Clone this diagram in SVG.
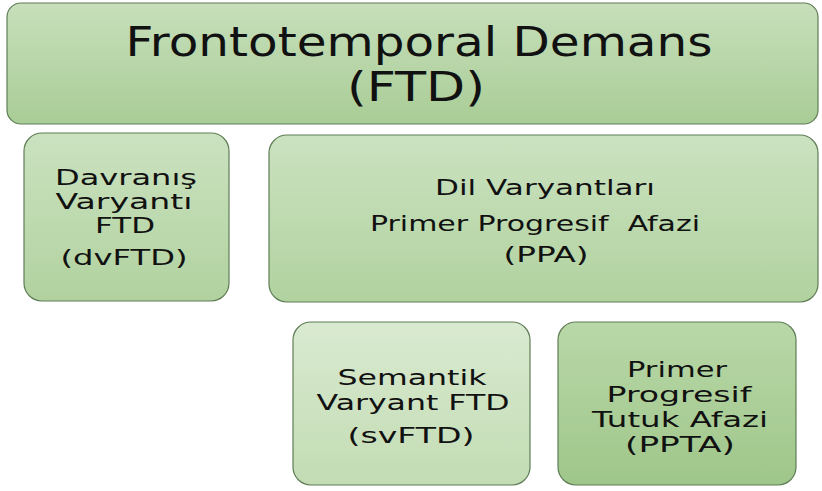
<svg xmlns="http://www.w3.org/2000/svg" width="822" height="491" viewBox="0 0 822 491">
<defs>
<linearGradient id="g1" x1="0" y1="0" x2="0" y2="1"><stop offset="0" stop-color="#c7dfbb"/><stop offset="1" stop-color="#a9cd96"/></linearGradient>
<linearGradient id="g2" x1="0" y1="0" x2="0" y2="1"><stop offset="0" stop-color="#cbe2c0"/><stop offset="1" stop-color="#b1d29f"/></linearGradient>
<linearGradient id="g3" x1="0" y1="0" x2="0" y2="1"><stop offset="0" stop-color="#d9ead0"/><stop offset="1" stop-color="#c3dcb4"/></linearGradient>
<linearGradient id="g4" x1="0" y1="0" x2="0" y2="1"><stop offset="0" stop-color="#b9d8a8"/><stop offset="1" stop-color="#9fc68a"/></linearGradient>
</defs>
<style>
rect{stroke:#5f7d56;stroke-width:1.2}
text{font-family:"DejaVu Sans",Verdana,sans-serif;fill:#111;text-anchor:middle}
.t{font-size:41px}
.s{font-size:22px}
</style>
<rect width="822" height="491" fill="#ffffff" style="stroke:none"/>
<g id="ftd">
<rect x="7" y="3" width="811" height="121" rx="14" fill="url(#g1)"/>
<text class="t" x="419" y="56" textLength="587" lengthAdjust="spacingAndGlyphs">Frontotemporal Demans</text>
<text class="t" x="416" y="101" textLength="138" lengthAdjust="spacingAndGlyphs">(FTD)</text>
</g>
<g id="dvftd">
<rect x="24" y="133" width="205" height="168" rx="18" fill="url(#g2)"/>
<text class="s" x="126" y="185" textLength="142" lengthAdjust="spacingAndGlyphs">Davranış</text>
<text class="s" x="124" y="209" textLength="137" lengthAdjust="spacingAndGlyphs">Varyantı</text>
<text class="s" x="125" y="233" textLength="60" lengthAdjust="spacingAndGlyphs">FTD</text>
<text class="s" x="124" y="265" textLength="127" lengthAdjust="spacingAndGlyphs">(dvFTD)</text>
</g>
<g id="ppa">
<rect x="269" y="135" width="549" height="167" rx="18" fill="url(#g2)"/>
<text class="s" x="545" y="195" textLength="220" lengthAdjust="spacingAndGlyphs">Dil Varyantları</text>
<text class="s" x="535" y="231" textLength="330" lengthAdjust="spacingAndGlyphs" xml:space="preserve">Primer Progresif  Afazi</text>
<text class="s" x="546" y="262" textLength="85" lengthAdjust="spacingAndGlyphs">(PPA)</text>
</g>
<g id="svftd">
<rect x="293" y="322" width="237" height="163" rx="18" fill="url(#g3)"/>
<text class="s" x="412" y="385" textLength="149" lengthAdjust="spacingAndGlyphs">Semantik</text>
<text class="s" x="413" y="410" textLength="193" lengthAdjust="spacingAndGlyphs">Varyant FTD</text>
<text class="s" x="411" y="443" textLength="127" lengthAdjust="spacingAndGlyphs">(svFTD)</text>
</g>
<g id="ppta">
<rect x="558" y="322" width="238" height="163" rx="18" fill="url(#g4)"/>
<text class="s" x="677" y="377" textLength="100" lengthAdjust="spacingAndGlyphs">Primer</text>
<text class="s" x="679" y="402" textLength="145" lengthAdjust="spacingAndGlyphs">Progresif</text>
<text class="s" x="680" y="427" textLength="176" lengthAdjust="spacingAndGlyphs">Tutuk Afazi</text>
<text class="s" x="680" y="452" textLength="110" lengthAdjust="spacingAndGlyphs">(PPTA)</text>
</g>
<g id="connectors"></g>
</svg>
